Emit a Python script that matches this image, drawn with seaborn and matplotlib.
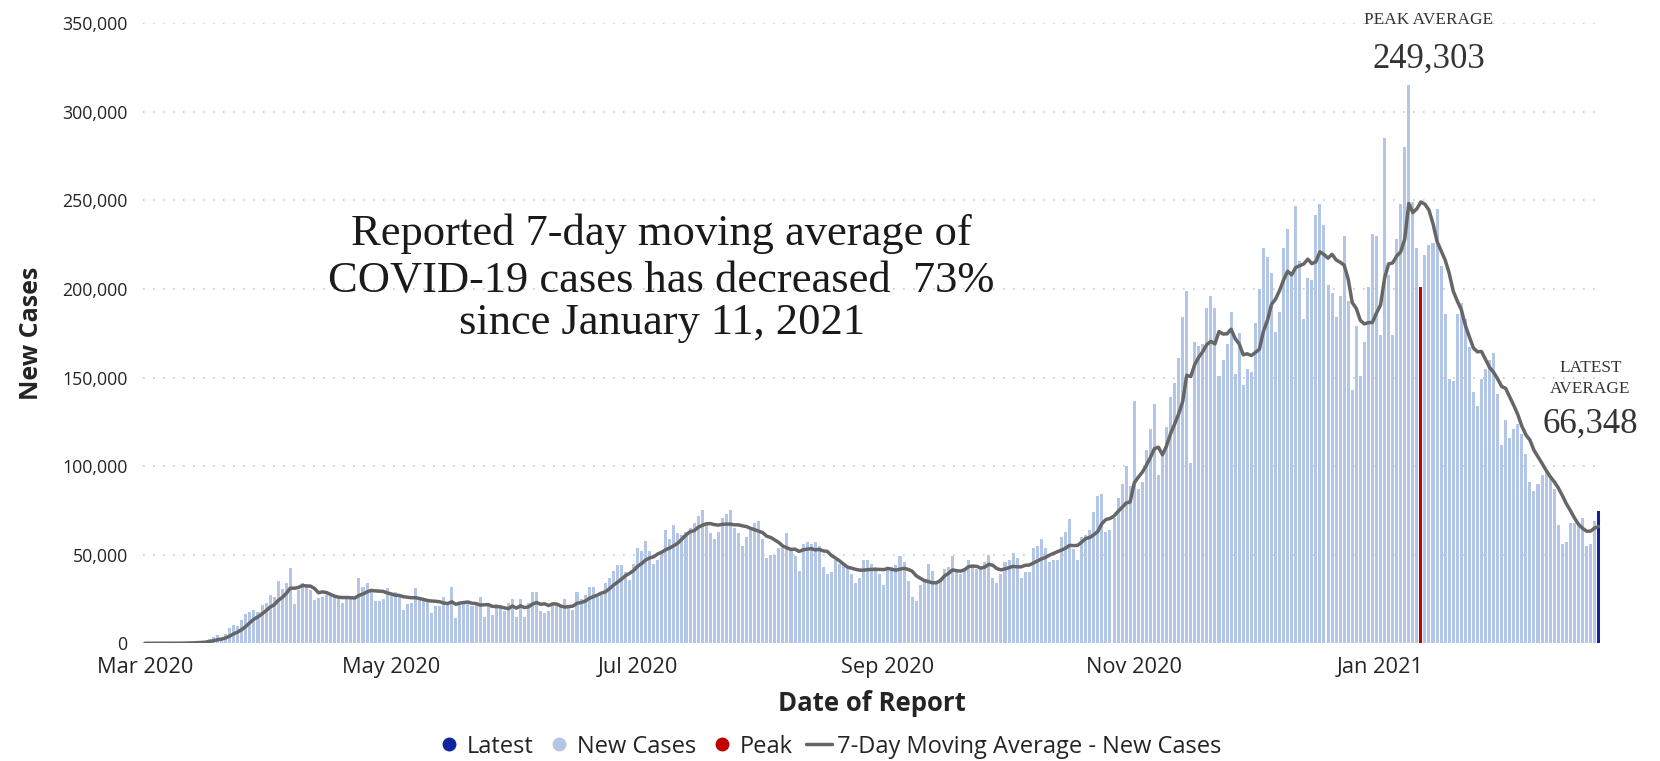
import numpy as np
import pandas as pd
import matplotlib
matplotlib.use("Agg")
import matplotlib.pyplot as plt
import matplotlib.dates as mdates
from matplotlib.lines import Line2D
import seaborn as sns

start_date = "2020-03-01"
peak_date = "2021-01-11"
peak_label = "249,303"
latest_label = "66,348"

# daily new cases (thousands), one row per week, starting Sun Mar 1 2020
new_cases_k = [
    0, 0, 0, 0, 0, 0, 0,
    0.1, 0.1, 0.2, 0.3, 0.4, 0.5, 0.7,
    1.0, 1.5, 2.6, 3.4, 4.5, 2.8, 5.3,
    8.5, 10.4, 9.8, 13.2, 16.6, 17.9, 18.9,
    17.9, 21.7, 22.6, 27.3, 26, 34.9, 30.6,
    34, 42.4, 22.3, 30.2, 34, 33, 30,
    24.5, 25.5, 26, 27, 27, 26, 26,
    23, 26, 25, 26, 37, 32, 34,
    29, 24, 24, 25, 31, 28, 29,
    28, 19, 22, 23, 31, 25, 25,
    24, 17, 21, 21, 26, 23, 32,
    14, 22, 23, 23, 21, 22, 26,
    15, 23, 16, 22, 20, 18, 23,
    25, 15, 25, 15, 23, 29, 29,
    18, 17, 18, 22, 22, 21, 25,
    20, 19, 29, 25, 27, 32, 32,
    26, 27, 34, 37, 41, 44, 44,
    40, 36, 45, 54, 52, 58, 52,
    45, 47, 52, 64, 59, 67, 62,
    61, 63, 65, 68, 72, 75, 68,
    62, 59, 63, 71, 73, 75, 65,
    62, 55, 60, 64, 68, 69, 59,
    48, 50, 50, 54, 54, 62, 53,
    49, 41, 56, 57, 56, 57, 55,
    43, 39, 40, 47, 45, 44, 43,
    39, 34, 37, 47, 47, 45, 43,
    39, 33, 42, 43, 44, 49, 46,
    35, 26, 24, 33, 35, 45, 41,
    35, 35, 42, 43, 49, 42, 39,
    41, 47, 44, 42, 42, 46, 50,
    37, 34, 39, 46, 47, 51, 48,
    37, 40, 40, 54, 55, 59, 54,
    46, 47, 47, 60, 63, 70, 53,
    47, 60, 61, 64, 74, 83, 84,
    63, 64, 71, 82, 90, 100, 89,
    137, 87, 91, 109, 121, 135, 95,
    107, 122, 139, 147, 161, 184, 199,
    102, 170, 168, 169, 189, 196, 189,
    151, 160, 169, 187, 152, 175, 146,
    155, 153, 181, 200, 223, 218, 209,
    176, 187, 223, 234, 209, 247, 216,
    183, 206, 205, 242, 248, 236, 202,
    198, 184, 196, 230, 193, 143, 179,
    151, 170, 201, 231, 230, 174, 285,
    208, 174, 228, 248, 280, 315, 249,
    223, 201, 219, 225, 226, 245, 213,
    186, 149, 148, 186, 192, 183, 167,
    142, 134, 149, 155, 160, 164, 141,
    112, 126, 116, 121, 124, 118, 107,
    91, 86, 90, 95, 97, 93, 87,
    67, 56, 57, 68, 68, 68, 71,
    55, 56, 69, 74.5,
]

tick_dates = ["2020-03-01", "2020-05-01", "2020-07-01", "2020-09-01", "2020-11-01", "2021-01-01"]
tick_labels = ["Mar 2020", "May 2020", "Jul 2020", "Sep 2020", "Nov 2020", "Jan 2021"]
y_ticks = [0, 50000, 100000, 150000, 200000, 250000, 300000, 350000]

title_lines = [
    "Reported 7-day moving average of",
    "COVID-19 cases has decreased  73%",
    "since January 11, 2021",
]

dates = pd.date_range(start_date, periods=len(new_cases_k), freq="D")
df = pd.DataFrame({"date": dates, "cases": np.array(new_cases_k) * 1000})
df["avg"] = df["cases"].rolling(7, min_periods=1).mean()
df["x"] = mdates.date2num(df["date"])
df["kind"] = "New Cases"
df.loc[df["date"] == pd.Timestamp(peak_date), "kind"] = "Peak"
df.loc[df.index[-1], "kind"] = "Latest"

colors = {"New Cases": "#b3c6e7", "Peak": "#c00000", "Latest": "#12239e"}
line_color = "#666666"
text_color = "#252423"

sns.set_style("white")
plt.rcParams["font.family"] = ["Open Sans", "DejaVu Sans"]

fig = plt.figure(figsize=(16.6, 7.61), dpi=100)
ax = fig.add_axes([0.0861, 0.1547, 0.8781, 0.8147])

sns.barplot(data=df, x="x", y="cases", hue="kind", palette=colors,
            native_scale=True, dodge=False, width=0.75, errorbar=None,
            saturation=1, legend=False, linewidth=0, ax=ax)
sns.lineplot(data=df, x="x", y="avg", color=line_color, linewidth=2.5, ax=ax)

ax.set_xlim(df["x"].iloc[0] - 0.5, df["x"].iloc[-1] + 0.5)
ax.set_ylim(0, 350000)
ax.set_xticks(mdates.date2num(pd.to_datetime(tick_dates)))
ax.set_xticklabels(tick_labels, fontsize=15.7, color=text_color)
ax.set_yticks(y_ticks)
ax.set_yticklabels([f"{v:,}" for v in y_ticks], fontsize=12.8, color=text_color)
ax.tick_params(length=0, axis="x", pad=10)
ax.tick_params(length=0, axis="y", pad=11)
for s in ax.spines.values():
    s.set_visible(False)
ax.yaxis.grid(True, linestyle=(0, (1, 5)), color="#c8c8c8", linewidth=1.2)
ax.set_axisbelow(True)

ax.set_xlabel("Date of Report", fontsize=18.5, fontweight="bold", color=text_color)
ax.xaxis.set_label_coords(0.5, -0.075)
ax.set_ylabel("New Cases", fontsize=18, fontweight="bold", color=text_color)
ax.yaxis.set_label_coords(-0.068, 0.5)

serif = ["Liberation Serif", "DejaVu Serif"]
peak_x = mdates.date2num(pd.Timestamp(peak_date))
last_x = df["x"].iloc[-1]
ax.text(peak_x + 2, 351800, "PEAK AVERAGE", family=serif, fontsize=12.4,
        ha="center", va="center", color="#333333", clip_on=False)
ax.text(peak_x + 2, 329700, peak_label, family=serif, fontsize=25,
        ha="center", va="center", color="#333333", clip_on=False)
ax.text(last_x - 2, 155500, "LATEST", family=serif, fontsize=12.4,
        ha="center", va="center", color="#333333", clip_on=False)
ax.text(last_x - 2, 143500, "AVERAGE", family=serif, fontsize=12.4,
        ha="center", va="center", color="#333333", clip_on=False)
ax.text(last_x - 2, 123800, latest_label, family=serif, fontsize=25,
        ha="center", va="center", color="#333333", clip_on=False)

for y, line in zip([0.6925, 0.6314, 0.5756], title_lines):
    fig.text(0.3986, y, line, family=serif, fontsize=32,
             ha="center", va="center", color="#1a1a1a")

handles = [
    Line2D([0], [0], marker="o", linestyle="", markerfacecolor=colors["Latest"],
           markeredgecolor=colors["Latest"], markersize=9),
    Line2D([0], [0], marker="o", linestyle="", markerfacecolor=colors["New Cases"],
           markeredgecolor=colors["New Cases"], markersize=9),
    Line2D([0], [0], marker="o", linestyle="", markerfacecolor=colors["Peak"],
           markeredgecolor=colors["Peak"], markersize=9),
    Line2D([0], [0], color=line_color, linewidth=2.5),
]
labels = ["Latest", "New Cases", "Peak", "7-Day Moving Average - New Cases"]
leg = fig.legend(handles, labels, loc="center", bbox_to_anchor=(0.499, 0.019),
                 ncol=4, frameon=False, fontsize=17, handlelength=1.1,
                 handletextpad=0.2, columnspacing=0.55)
for t in leg.get_texts():
    t.set_color(text_color)

fig.savefig("out.png", dpi=100)
